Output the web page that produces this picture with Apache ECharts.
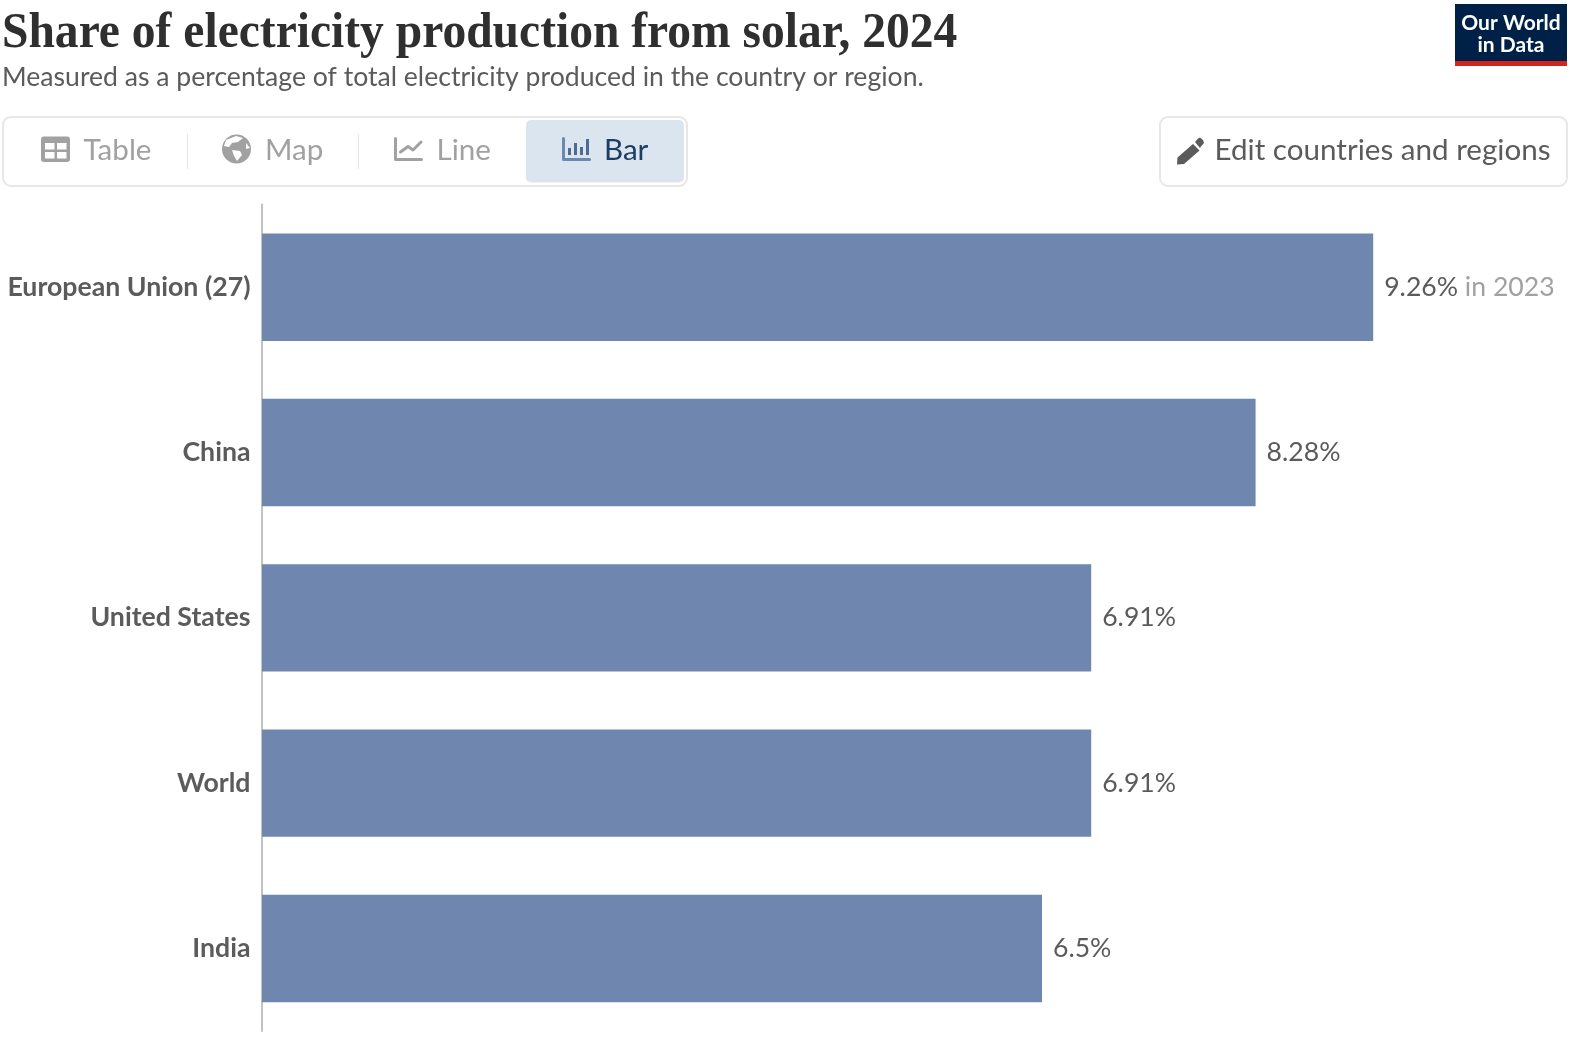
<!DOCTYPE html>
<html><head><meta charset="utf-8">
<style>html,body{margin:0;padding:0;background:#fff;overflow:hidden}#c{width:1577px;height:1037px}</style>
<script src="https://cdn.jsdelivr.net/npm/echarts@6/dist/echarts.min.js"></script>
</head><body><div id="c"></div>
<script>
const categories = ['European Union (27)','China','United States','World','India'];
const shares = [9.26,8.28,6.91,6.91,6.5];
const yearNotes = ['in 2023','','','',''];
const titleText = 'Share of electricity production from solar, 2024';
const subtitleText = 'Measured as a percentage of total electricity produced in the country or region.';
const tabs = ['Table','Map','Line','Bar'];

const chart = echarts.init(document.getElementById('c'),null,{renderer:'canvas'});
const T=(x,y,text,size,color,extra,el)=>Object.assign({type:'text',x,y,silent:true,style:Object.assign({text,fontFamily:'Lato',fontSize:size,fill:color,verticalAlign:'middle'},extra||{})},el||{});
const box=(x,y,w,h,r,fill,stroke,lw)=>({type:'rect',silent:true,shape:{x,y,width:w,height:h,r},style:{fill,stroke,lineWidth:lw||0}});
const poly=(points,fill)=>({type:'polygon',silent:true,shape:{points},style:{fill}});
const pline=(points,stroke,lw)=>({type:'polyline',silent:true,shape:{points},style:{stroke,lineWidth:lw,fill:'none',lineCap:'round',lineJoin:'round'}});
const grey='#a1a1a1', navy='#1d3d63', blueIcon='#6d87af', blueBars='#4f6a92', ink='#5b5b5b';
const graphic=[
 T(2,34,titleText,51,'#2f2f2f',{fontFamily:'Liberation Serif',fontWeight:'bold'},{scaleX:0.932}),
 T(2,77,subtitleText,26.6,ink),
 box(1455,4,112,62,0,'#002147'),
 box(1455,61,112,5,0,'#ce261e'),
 T(1511,23,'Our World',21,'#fff',{align:'center',fontWeight:'bold'}),
 T(1511,45,'in Data',21,'#fff',{align:'center',fontWeight:'bold'}),
 box(3,117,684,69,8,'#fff','#e7e7e7',2),
 box(526,120,158,62.5,5,'#dbe5f0'),
 {type:'line',silent:true,shape:{x1:187.5,y1:134,x2:187.5,y2:169},style:{stroke:'#e7e7e7',lineWidth:1}},
 {type:'line',silent:true,shape:{x1:358.5,y1:134,x2:358.5,y2:169},style:{stroke:'#e7e7e7',lineWidth:1}},
 T(83.5,150.3,tabs[0],29.6,grey),
 T(265,150.3,tabs[1],29.6,grey),
 T(436.5,150.3,tabs[2],29.6,grey),
 T(604,150.3,tabs[3],29.6,navy),
 // table icon
 box(41,136.5,29,25.5,3,grey),
 box(45,143,9.5,6.5,0,'#fff'),box(57,143,9.5,6.5,0,'#fff'),box(45,152,9.5,6.5,0,'#fff'),box(57,152,9.5,6.5,0,'#fff'),
 // globe icon
 {type:'circle',silent:true,shape:{cx:236.5,cy:149,r:14.5},style:{fill:grey}},
 poly([[226,140],[236,136],[243,138],[238,142],[232,143],[229,147],[224,146]],'#fff'),
 poly([[232,150],[240,151],[242,155],[237,161],[234,156]],'#fff'),
 poly([[246,143],[250,148],[246,149]],'#fff'),
 // line icon
 pline([[395.5,138.5],[395.5,159.5],[421.5,159.5]],grey,3),
 pline([[400.5,152],[408,146.5],[413,150],[421,142]],grey,3),
 // bar icon
 pline([[563.5,138.5],[563.5,159.5],[589.5,159.5]],blueIcon,3),
 box(568,148,3,7,0,blueBars),box(574,143,3,12,0,blueBars),box(580,147,3,8,0,blueBars),box(586,139,3,16,0,blueBars),
 // edit button
 box(1160,117,407,69,8,'#fff','#e7e7e7',2),
 poly([[1193,144],[1199.5,150.5],[1184,164],[1177,164.5],[1177.5,157.5]],ink),
 poly([[1195,142],[1198,138.5],[1200,137.5],[1203,140],[1204,143],[1201,146.5],[1200,148]],ink),
 T(1214.5,150.3,'Edit countries and regions',29.6,ink)
];
chart.setOption({
 animation:false,
 backgroundColor:'#fff',
 textStyle:{fontFamily:'Lato'},
 grid:{left:262,top:204.6,width:1200,height:826.5},
 xAxis:{type:'value',min:0,max:10,show:false},
 yAxis:{type:'category',inverse:true,data:categories,offset:2,
  axisLine:{show:true,lineStyle:{color:'#c2c2c2',width:2}},axisTick:{show:false},
  axisLabel:{fontFamily:'Lato',fontWeight:'bold',fontSize:26.7,color:ink,margin:9.5,padding:[8,0,0,0]}},
 series:[{type:'bar',data:shares,barWidth:107.4,itemStyle:{color:'#6f87af'},
  label:{show:true,position:'right',distance:11,fontFamily:'Lato',fontSize:26.6,color:ink,
   formatter:p=>{const n=yearNotes[p.dataIndex];return p.value+'%'+(n?' {n|'+n+'}':'');},
   rich:{n:{fontFamily:'Lato',fontSize:26.6,color:'#a1a1a1'}}}}],
 graphic
});
</script></body></html>
